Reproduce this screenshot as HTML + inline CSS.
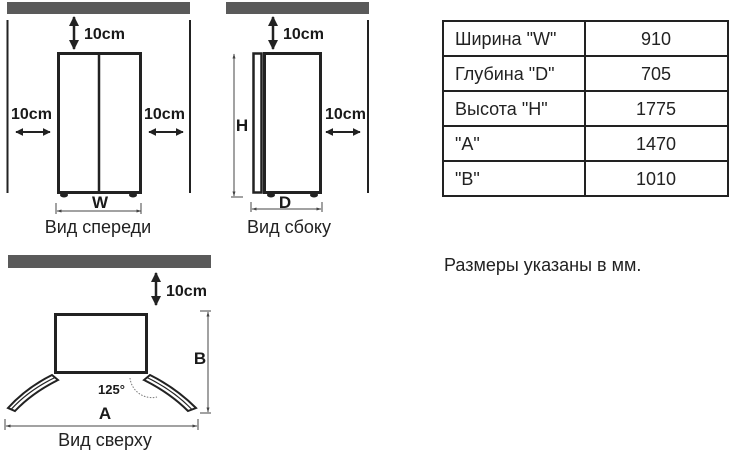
<!DOCTYPE html>
<html><head><meta charset="utf-8"><style>
html,body{margin:0;padding:0;background:#fff;width:735px;height:454px;overflow:hidden}
svg{display:block}
.b{font-family:"Liberation Sans","DejaVu Sans",sans-serif;font-weight:bold;font-size:16px;fill:#1a1a1a}
.n{font-family:"Liberation Sans","DejaVu Sans",sans-serif;font-size:18px;fill:#222}
</style></head><body>
<svg width="735" height="454" viewBox="0 0 735 454" xmlns="http://www.w3.org/2000/svg">
<defs>
<marker id="ah" viewBox="0 0 10 10" refX="9" refY="5" markerWidth="4" markerHeight="4" orient="auto-start-reverse"><path d="M0,0L10,5L0,10z" fill="#222"/></marker>
<marker id="sh" viewBox="0 0 10 10" refX="9" refY="5" markerWidth="5" markerHeight="5" orient="auto-start-reverse"><path d="M0,2L10,5L0,8z" fill="#444"/></marker>
</defs>
<!-- front view -->
<rect x="7" y="2" width="183" height="12" fill="#5a5a5a"/>
<line x1="7.5" y1="20" x2="7.5" y2="193" stroke="#222" stroke-width="2"/>
<line x1="190" y1="20" x2="190" y2="193" stroke="#222" stroke-width="2"/>
<line x1="74" y1="17" x2="74" y2="49" stroke="#222" stroke-width="2.5" marker-start="url(#ah)" marker-end="url(#ah)"/>
<text class="b" x="84" y="39">10cm</text>
<rect x="58.5" y="53.5" width="82" height="139" fill="none" stroke="#222" stroke-width="3"/>
<line x1="99" y1="53" x2="99" y2="193" stroke="#222" stroke-width="2.5"/>
<ellipse cx="64" cy="195" rx="4" ry="2.5" fill="#222"/><ellipse cx="133" cy="195" rx="4" ry="2.5" fill="#222"/>
<text class="b" x="11" y="119">10cm</text>
<line x1="16" y1="132" x2="50" y2="132" stroke="#222" stroke-width="2" marker-start="url(#ah)" marker-end="url(#ah)"/>
<text class="b" x="144" y="119">10cm</text>
<line x1="149" y1="132" x2="183" y2="132" stroke="#222" stroke-width="2" marker-start="url(#ah)" marker-end="url(#ah)"/>
<text class="b" x="100" y="208" text-anchor="middle" style="font-size:17px">W</text>
<line x1="57" y1="211" x2="141" y2="211" stroke="#444" stroke-width="1" marker-start="url(#sh)" marker-end="url(#sh)"/>
<line x1="56" y1="203" x2="56" y2="214" stroke="#444"/><line x1="141" y1="203" x2="141" y2="214" stroke="#444"/>
<text class="n" x="98" y="233" text-anchor="middle">Вид спереди</text>
<!-- side view -->
<rect x="226" y="2" width="143" height="12" fill="#5a5a5a"/>
<line x1="368" y1="20" x2="368" y2="193" stroke="#222" stroke-width="2"/>
<line x1="273" y1="17" x2="273" y2="49" stroke="#222" stroke-width="2.5" marker-start="url(#ah)" marker-end="url(#ah)"/>
<text class="b" x="283" y="39">10cm</text>
<rect x="253.5" y="53.5" width="8" height="139" fill="none" stroke="#222" stroke-width="2.5"/>
<rect x="264.5" y="53.5" width="56" height="139" fill="none" stroke="#222" stroke-width="3"/>
<ellipse cx="271" cy="195" rx="4" ry="2.5" fill="#222"/><ellipse cx="314" cy="195" rx="4" ry="2.5" fill="#222"/>
<line x1="234" y1="54" x2="234" y2="196" stroke="#444" stroke-width="1" marker-start="url(#sh)" marker-end="url(#sh)"/>
<line x1="231" y1="197" x2="243" y2="197" stroke="#444"/>
<text class="b" x="242" y="131" text-anchor="middle" style="font-size:17px">H</text>
<text class="b" x="285" y="208" text-anchor="middle" style="font-size:17px">D</text>
<line x1="252" y1="209" x2="321" y2="209" stroke="#444" stroke-width="1" marker-start="url(#sh)" marker-end="url(#sh)"/>
<line x1="251" y1="202" x2="251" y2="212" stroke="#444"/><line x1="322" y1="202" x2="322" y2="212" stroke="#444"/>
<text class="b" x="325" y="119">10cm</text>
<line x1="326" y1="132" x2="360" y2="132" stroke="#222" stroke-width="2" marker-start="url(#ah)" marker-end="url(#ah)"/>
<text class="n" x="289" y="233" text-anchor="middle">Вид сбоку</text>
<!-- top view -->
<rect x="8" y="255" width="203" height="13" fill="#5a5a5a"/>
<line x1="156" y1="273" x2="156" y2="305" stroke="#222" stroke-width="2.5" marker-start="url(#ah)" marker-end="url(#ah)"/>
<text class="b" x="166" y="296">10cm</text>
<rect x="55.5" y="314.5" width="91" height="58" fill="none" stroke="#222" stroke-width="3"/>
<path d="M52,375 L58,380 Q32,393 15,411 L8,408 Q26,388 52,375 Z" fill="#fff" stroke="#222" stroke-width="2"/>
<path d="M55,377.5 Q29,390 11,409.5" fill="none" stroke="#222" stroke-width="1.2"/>
<path d="M150,375 L144,380 Q170,393 188,411 L196,408 Q176,388 150,375 Z" fill="#fff" stroke="#222" stroke-width="2"/>
<path d="M147,377.5 Q173,390 192,409.5" fill="none" stroke="#222" stroke-width="1.2"/>
<path d="M130,378 A22,22 0 0 0 157,397" fill="none" stroke="#777" stroke-width="1" stroke-dasharray="1.5,1.5"/>
<text class="b" x="98" y="394" style="font-size:13px">125°</text>
<line x1="208" y1="312" x2="208" y2="412" stroke="#444" stroke-width="1" marker-start="url(#sh)" marker-end="url(#sh)"/>
<line x1="200" y1="311" x2="211" y2="311" stroke="#444"/><line x1="200" y1="413" x2="211" y2="413" stroke="#444"/>
<text class="b" x="200" y="364" text-anchor="middle" style="font-size:17px">B</text>
<text class="b" x="105" y="419" text-anchor="middle" style="font-size:17px">A</text>
<line x1="6" y1="426" x2="197" y2="426" stroke="#444" stroke-width="1" marker-start="url(#sh)" marker-end="url(#sh)"/>
<line x1="5" y1="419" x2="5" y2="430" stroke="#444"/><line x1="198" y1="419" x2="198" y2="430" stroke="#444"/>
<text class="n" x="105" y="446" text-anchor="middle">Вид сверху</text>
<!-- table -->
<g stroke="#222" stroke-width="2" fill="none">
<rect x="443" y="21" width="285" height="175"/>
<line x1="585" y1="21" x2="585" y2="196"/>
<line x1="443" y1="56" x2="728" y2="56"/><line x1="443" y1="91" x2="728" y2="91"/>
<line x1="443" y1="126" x2="728" y2="126"/><line x1="443" y1="161" x2="728" y2="161"/>
</g>
<g class="n">
<text x="455" y="45">Ширина "W"</text><text x="656" y="45" text-anchor="middle">910</text>
<text x="455" y="80">Глубина "D"</text><text x="656" y="80" text-anchor="middle">705</text>
<text x="455" y="115">Высота "H"</text><text x="656" y="115" text-anchor="middle">1775</text>
<text x="455" y="150">"A"</text><text x="656" y="150" text-anchor="middle">1470</text>
<text x="455" y="185">"B"</text><text x="656" y="185" text-anchor="middle">1010</text>
</g>
<text class="n" x="444" y="271">Размеры указаны в мм.</text>
</svg>
</body></html>
